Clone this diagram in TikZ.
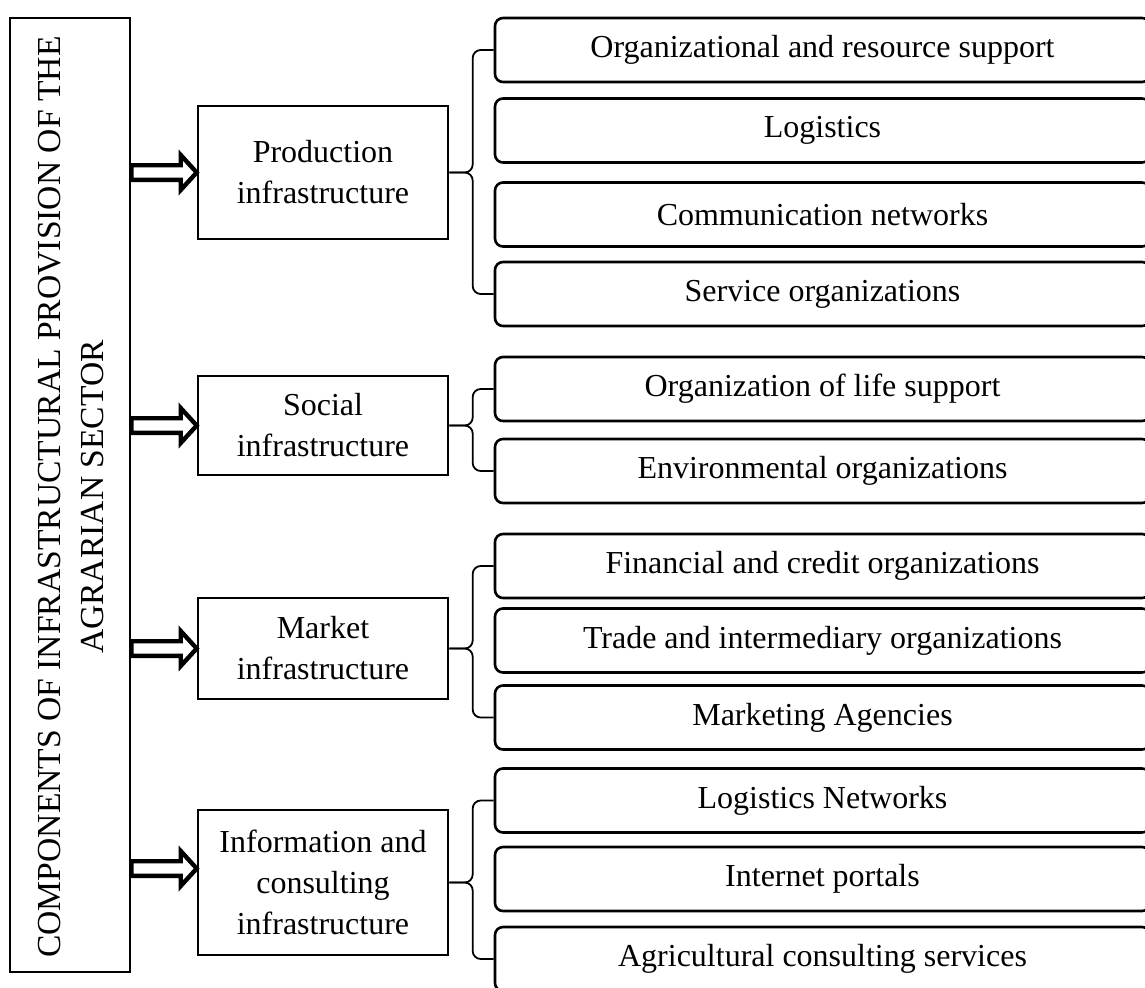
\documentclass[tikz,border=0pt]{standalone}
\usepackage{fontspec}
\setmainfont{Liberation Serif}
\usetikzlibrary{calc}

\begin{document}
\begin{tikzpicture}[x=0.5pt,y=-0.5pt,font=\fontsize{16}{20.5}\selectfont]
	% Styles
	\tikzstyle{cadre}=[draw,line width=1.3pt,minimum width=60pt,minimum height=477pt]
	\tikzstyle{titre}=[rotate=90,align=center,font=\fontsize{16.8}{21.5}\selectfont]
	\tikzstyle{noeud}=[draw,line width=1.3pt,minimum width=125pt,align=center]
	\tikzstyle{feuille}=[draw,line width=1.3pt,rounded corners=4pt,minimum width=327.5pt,minimum height=32pt]
	\tikzstyle{creuse}=[line width=2.2pt,line join=miter]
	\tikzstyle{accolade}=[line width=0.9pt,rounded corners=4pt]
	% Dimensions
	\def\ColA{70}
	\def\ColB{323}
	\def\ColC{822.5}
	\def\Retrait{-21}
	% Fleche creuse : #1 = noeud cible, #2 = decalage vertical de la pointe
	\def\FlecheCreuse#1#2{%
		\coordinate (pointe) at ($(#1.west)+(0,#2)$);
		\draw[creuse] ($(cadre.east |- pointe)+(0,-7.3)$) -- ($(pointe)+(-16,-7.3)$) -- ++(0,-10.2)
			-- (pointe) -- ++(-16,17.5) -- ++(0,-10.2) -- ($(cadre.east |- pointe)+(0,7.3)$) -- cycle;}
	\useasboundingbox (0,0) rectangle (1145,987);
	% Cadre principal
	\node[cadre] (cadre) at ({\ColA},{495}) {};
	\node[titre] (titre) at ({\ColA+1},{497}) {COMPONENTS OF INFRASTRUCTURAL PROVISION OF THE\\AGRARIAN SECTOR};
	% Types d'infrastructure
	\node[noeud,minimum height=66.5pt] (prod) at ({\ColB},{172.5}) {Production\\infrastructure};
	\node[noeud,minimum height=49.5pt] (soc) at ({\ColB},{425.5}) {Social\\infrastructure};
	\node[noeud,minimum height=50.5pt] (march) at ({\ColB},{648.5}) {Market\\infrastructure};
	\node[noeud,minimum height=72.5pt] (info) at ({\ColB},{882.5}) {Information and\\consulting\\infrastructure};
	% Composantes
	\node[feuille] (prodA) at ({\ColC},{50}) {Organizational and resource support};
	\node[feuille] (prodB) at ({\ColC},{130.5}) {Logistics};
	\node[feuille] (prodC) at ({\ColC},{214.5}) {Communication networks};
	\node[feuille] (prodD) at ({\ColC},{294}) {Service organizations};
	%
	\node[feuille] (socA) at ({\ColC},{389}) {Organization of life support};
	\node[feuille] (socB) at ({\ColC},{471}) {Environmental organizations};
	%
	\node[feuille] (marchA) at ({\ColC},{566}) {Financial and credit organizations};
	\node[feuille] (marchB) at ({\ColC},{640.5}) {Trade and intermediary organizations};
	\node[feuille] (marchC) at ({\ColC},{717.5}) {Marketing Agencies};
	%
	\node[feuille] (infoA) at ({\ColC},{800.5}) {Logistics Networks};
	\node[feuille] (infoB) at ({\ColC},{879}) {Internet portals};
	\node[feuille] (infoC) at ({\ColC},{959}) {Agricultural consulting services};
	% Fleches
	\FlecheCreuse{prod}{0}
	\FlecheCreuse{soc}{0}
	\FlecheCreuse{march}{0}
	\FlecheCreuse{info}{-14}
	% Accolades
	\draw[accolade] (prodA.west) -- ++(\Retrait,0) |- (prod.east);
	\draw[accolade] (prodD.west) -- ++(\Retrait,0) |- (prod.east);
	\draw[accolade] (socA.west) -- ++(\Retrait,0) |- (soc.east);
	\draw[accolade] (socB.west) -- ++(\Retrait,0) |- (soc.east);
	\draw[accolade] (marchA.west) -- ++(\Retrait,0) |- (march.east);
	\draw[accolade] (marchC.west) -- ++(\Retrait,0) |- (march.east);
	\draw[accolade] (infoA.west) -- ++(\Retrait,0) |- (info.east);
	\draw[accolade] (infoC.west) -- ++(\Retrait,0) |- (info.east);
\end{tikzpicture}
\end{document}
